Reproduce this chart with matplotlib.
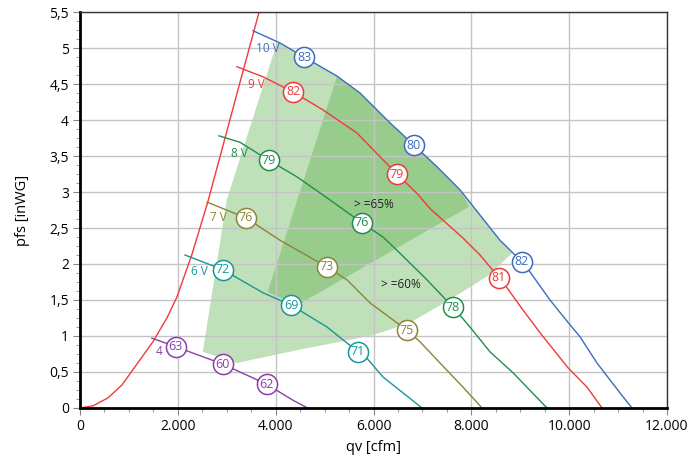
import numpy as np
import matplotlib
matplotlib.use("Agg")
import matplotlib.pyplot as plt
from matplotlib.ticker import MultipleLocator, FuncFormatter

plt.rcParams['font.family'] = ['Open Sans', 'DejaVu Sans']

# System curve (red, steep)
sys_q = [0, 265, 571, 857, 1122, 1490, 1776, 1980, 2286, 2612, 3265, 3673]
sys_p = [0, 0.03, 0.14, 0.32, 0.57, 0.92, 1.25, 1.54, 2.13, 2.86, 4.51, 5.53]

# Fan curves per voltage
q10 = [3536, 4088, 4579, 5254, 5724, 6337, 6827, 7298, 7768, 8585, 9035, 9199,
       9607, 9975, 10221, 10568, 10834, 11038, 11284]
p10 = [5.24, 5.07, 4.875, 4.61, 4.375, 3.96, 3.65, 3.35, 3.03, 2.33, 2.03, 1.89,
       1.50, 1.19, 0.99, 0.625, 0.39, 0.21, 0]
q9 = [3209, 3741, 4354, 4967, 5662, 6132, 6480, 6889, 7155, 7829, 8177, 8565,
      8728, 9056, 9444, 9975, 10364, 10671]
p9 = [4.74, 4.60, 4.39, 4.14, 3.82, 3.49, 3.25, 2.98, 2.77, 2.36, 2.125, 1.81,
      1.67, 1.36, 1.01, 0.56, 0.29, 0]
q8 = [2841, 3271, 3863, 4436, 5110, 5765, 6194, 6480, 7093, 7625, 7972, 8381, 8851, 9546]
p8 = [3.78, 3.69, 3.44, 3.21, 2.89, 2.57, 2.375, 2.19, 1.78, 1.40, 1.125, 0.78, 0.49, 0]
q7 = [2596, 3393, 4088, 5049, 5458, 5928, 6684, 6950, 7359, 7829, 8218]
p7 = [2.86, 2.64, 2.33, 1.96, 1.78, 1.46, 1.08, 0.92, 0.625, 0.29, 0]
q6 = [2146, 2923, 3741, 4313, 5049, 5683, 5867, 6194, 6603, 6991]
p6 = [2.125, 1.92, 1.60, 1.43, 1.125, 0.78, 0.69, 0.43, 0.21, 0]
q4 = [1469, 1959, 2918, 3816, 4347, 4653]
p4 = [0.97, 0.85, 0.61, 0.33, 0.11, 0]

# Efficiency markers (q, p, value)
mk10 = ([4579, 6827, 9035], [4.875, 3.65, 2.03], [83, 80, 82])
mk9 = ([4354, 6480, 8565], [4.39, 3.25, 1.81], [82, 79, 81])
mk8 = ([3863, 5765, 7625], [3.44, 2.57, 1.40], [79, 76, 78])
mk7 = ([3393, 5049, 6684], [2.64, 1.96, 1.08], [76, 73, 75])
mk6 = ([2923, 4313, 5683], [1.92, 1.43, 0.78], [72, 69, 71])
mk4 = ([1959, 2918, 3816], [0.85, 0.61, 0.33], [63, 60, 62])

labels = ["10 V", "9 V", "8 V", "7 V", "6 V", "4"]
label_q = [3837, 3612, 3265, 2837, 2449, 1612]
label_p = [5.00, 4.49, 3.54, 2.65, 1.90, 0.79]

# Efficiency zones
z60_left_q = [2510, 3000, 4020]
z60_left_p = [0.78, 2.89, 5.06]
z60_low_q = [2510, 3204, 4490, 5980, 6735, 7551, 8306, 8837]
z60_low_p = [0.78, 0.625, 0.81, 1.01, 1.18, 1.50, 1.82, 2.15]
z65_q = [5254, 3837, 4449, 7959]
z65_p = [4.61, 1.61, 1.43, 2.80]

colors = ["#3b6cc0", "#f03a3a", "#1f8f4e", "#8a8537", "#17979a", "#8b3fa8"]

fig = plt.figure(figsize=(6.91, 4.62), dpi=100)
ax = fig.add_axes([0.1158, 0.1169, 0.8495, 0.8571])


def blue_between(a, b):
    qs = [q for q in q10 if a < q < b]
    ps = [p for q, p in zip(q10, p10) if a < q < b]
    return qs, ps


# light zone (>= 60%)
bq, bp = blue_between(z60_left_q[-1], z60_low_q[-1])
poly_q = z60_left_q + bq + z60_low_q[::-1]
poly_p = z60_left_p + bp + z60_low_p[::-1]
ax.fill(poly_q, poly_p, color="#c0e0ba", lw=0, zorder=0.2)

# dark zone (>= 65%)
bq, bp = blue_between(z65_q[0], z65_q[-1])
poly_q = z65_q + bq[::-1]
poly_p = z65_p + bp[::-1]
ax.fill(poly_q, poly_p, color="#98cc8c", lw=0, zorder=0.3)

ax.plot(sys_q, sys_p, color="#f03a3a", lw=1)

curves = [(q10, p10), (q9, p9), (q8, p8), (q7, p7), (q6, p6), (q4, p4)]
marks = [mk10, mk9, mk8, mk7, mk6, mk4]
for (q, p), mk, c, lab, lq, lp in zip(curves, marks, colors, labels, label_q, label_p):
    ax.plot(q, p, color=c, lw=1, zorder=2)
    ax.plot(mk[0], mk[1], 'o', ms=14.5, mfc="white", mec=c, mew=1.1, zorder=3)
    for x, y, v in zip(*mk):
        ax.text(x, y, str(v), color=c, fontsize=9, ha="center", va="center", zorder=4)
    ax.text(lq, lp, lab, color=c, fontsize=8.5, ha="center", va="center", zorder=4)

ax.text(6000, 2.82, "> =65%", fontsize=8.5, ha="center", va="center", color="#222222", zorder=4)
ax.text(6550, 1.72, "> =60%", fontsize=8.5, ha="center", va="center", color="#222222", zorder=4)

ax.set_xlim(0, 12000)
ax.set_ylim(0, 5.5)
ax.xaxis.set_major_locator(MultipleLocator(2000))
ax.xaxis.set_minor_locator(MultipleLocator(500))
ax.yaxis.set_major_locator(MultipleLocator(0.5))
ax.yaxis.set_minor_locator(MultipleLocator(0.125))
ax.xaxis.set_major_formatter(FuncFormatter(lambda v, _: f"{int(v):,}".replace(",", ".")))
ax.yaxis.set_major_formatter(FuncFormatter(lambda v, _: f"{v:g}".replace(".", ",")))
ax.grid(True, which="major", color="#c4c4c4", lw=1)
ax.set_axisbelow(True)

for s in ["top", "right"]:
    ax.spines[s].set_linewidth(1)
    ax.spines[s].set_color("#333333")
for s in ["left", "bottom"]:
    ax.spines[s].set_linewidth(2)
    ax.spines[s].set_color("black")
ax.tick_params(which="major", length=5, color="#888888", labelsize=10, pad=3)
ax.tick_params(which="minor", length=3, color="#888888")
ax.tick_params(axis="both", which="both", top=False, right=False)

ax.set_xlabel("qv [cfm]", fontsize=10.5, labelpad=4)
ax.set_ylabel("pfs [inWG]", fontsize=10.5, labelpad=14)

fig.savefig("out.png", dpi=100)
